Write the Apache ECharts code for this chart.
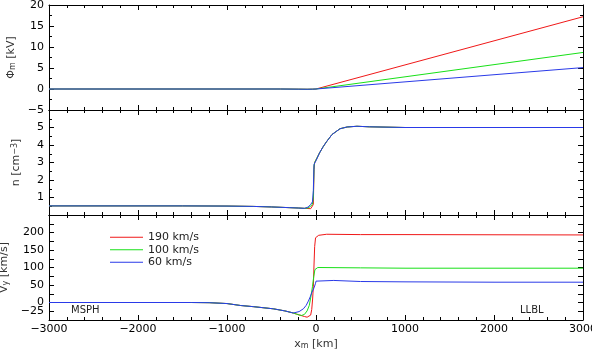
<!DOCTYPE html>
<html>
<head>
<meta charset="utf-8">
<script src="https://cdn.jsdelivr.net/npm/echarts@6/dist/echarts.min.js"></script>
<style>
  html, body { margin: 0; padding: 0; background: #fff; }
  #chart { width: 592px; height: 349px; }
</style>
</head>
<body>
<div id="chart"></div>
<script>
// series names
const names = ['190 km/s', '100 km/s', '60 km/s'];
const colors = ['#f01818', '#18e018', '#2a3ae8'];

// panel 1: potential phi_m [kV]
const xPhi = [-3000, -1000, -400, -200, -100, -40, 0, 3000];
const phiRed = [0, 0, 0, -0.04, -0.06, -0.04, 0, 17.2];
const phiGreen = [0, 0, 0, -0.04, -0.06, -0.04, 0, 8.7];
const phiBlue = [0, 0, 0, -0.04, -0.06, -0.04, 0, 5.1];

// panel 2: density n [cm^-3]
const xN = [-3000, -2000, -1500, -1000, -700, -500, -300, -200, -130, -90, -60, -40, -30, -22, -15, 0, 40, 80, 120, 180, 270, 350, 460, 600, 1000, 2000, 3000];
const nRed = [0.52, 0.52, 0.52, 0.51, 0.49, 0.46, 0.42, 0.40, 0.38, 0.37, 0.36, 0.42, 0.6, 2.6, 3.0, 3.1, 3.55, 3.9, 4.2, 4.6, 4.93, 5.03, 5.07, 5.04, 5.0, 5.0, 5.0];
const nGreen = [0.52, 0.52, 0.52, 0.51, 0.49, 0.46, 0.42, 0.40, 0.38, 0.40, 0.50, 0.62, 1.0, 2.8, 3.0, 3.1, 3.55, 3.9, 4.2, 4.6, 4.93, 5.03, 5.07, 5.04, 5.0, 5.0, 5.0];
const nBlue = [0.52, 0.52, 0.52, 0.51, 0.49, 0.46, 0.42, 0.40, 0.38, 0.45, 0.60, 0.75, 1.4, 2.9, 3.0, 3.1, 3.55, 3.9, 4.2, 4.6, 4.93, 5.03, 5.07, 5.04, 5.0, 5.0, 5.0];

// panel 3: velocity V_y [km/s]
const xVyCommon = [-3000, -2000, -1400, -1200, -1000, -850, -700, -480, -350, -255];
const vyCommon = [0, 0, 0, -0.5, -3, -8.5, -12, -18, -24, -30];
const xVyRed = [-220, -170, -130, -100, -80, -60, -48, -38, -30, -22, -15, -5, 10, 30, 120, 500, 1000, 3000];
const vyRed = [-33, -37, -40, -42, -42, -36, -20, 10, 45, 110, 160, 185, 190, 192, 195, 194, 194, 193];
const xVyGreen = [-220, -190, -161, -130, -100, -75, -55, -40, -25, -12, 0, 20, 500, 1000, 3000];
const vyGreen = [-33, -35.5, -37, -34, -24, -8, 20, 45, 75, 94, 99, 100, 99, 98, 98];
const xVyBlue = [-236, -190, -142, -110, -86, -65, -48, -22, -5, 0, 20, 200, 500, 1000, 2000, 3000];
const vyBlue = [-31, -26, -18, -8, 4, 16, 28, 42, 55, 61, 64, 63, 60, 59, 58, 58];

// tick labels
const xTicks = [-3000, -2000, -1000, 0, 1000, 2000, 3000];

const pairs = (xs, ys) => xs.map((x, i) => [x, ys[i]]);
const minus = v => String(v).replace('-', '\u2212');

const FONT = 'DejaVu Sans';
const tickStyle = { show: true, inside: true, length: 5, lineStyle: { color: '#000' } };
const minorStyle = (n) => ({ show: true, splitNumber: n, length: 3, lineStyle: { color: '#000' } });
const lineStyle = { show: true, onZero: false, lineStyle: { color: '#000', width: 1 } };

const grids = [
  { left: 49, right: 9, top: 5, height: 105, outerBoundsMode: 'none', containLabel: false },
  { left: 49, right: 9, top: 110, height: 105, outerBoundsMode: 'none', containLabel: false },
  { left: 49, right: 9, top: 215, height: 105, outerBoundsMode: 'none', containLabel: false },
];

const richSub = {
  a: { fontFamily: FONT, fontSize: 11, color: '#333', lineHeight: 11, verticalAlign: 'top' },
  s: { fontFamily: FONT, fontSize: 8, color: '#333', lineHeight: 8, padding: [6, 0, 0, 0], verticalAlign: 'bottom' },
};
const richSup = {
  a: { fontFamily: FONT, fontSize: 11, color: '#333', lineHeight: 11, padding: [4, 0, 0, 0], verticalAlign: 'bottom' },
  p: { fontFamily: FONT, fontSize: 8, color: '#333', lineHeight: 8, verticalAlign: 'top' },
};

const xAxes = [];
[0, 1, 2].forEach(g => {
  xAxes.push({
    type: 'value', gridIndex: g, min: -3000, max: 3000, interval: 1000,
    position: 'bottom',
    axisLine: lineStyle, axisTick: tickStyle, minorTick: minorStyle(5),
    splitLine: { show: false },
    axisLabel: {
      show: g === 2, fontFamily: FONT, fontSize: 11, color: '#000', margin: 4,
      showMinLabel: true, showMaxLabel: true, hideOverlap: false,
      formatter: v => xTicks.includes(v) ? minus(v) : ''
    },
    name: g === 2 ? '{a|x}{s|m}{a| [km]}' : '',
    nameLocation: 'middle', nameGap: 14,
    nameTextStyle: { rich: richSub },
  });
});
[0, 1, 2].forEach(g => {
  xAxes.push({
    type: 'value', gridIndex: g, min: -3000, max: 3000, interval: 1000,
    position: 'top',
    axisLine: lineStyle, axisTick: tickStyle, minorTick: minorStyle(5),
    splitLine: { show: false }, axisLabel: { show: false },
  });
});

const yCfg = [
  { min: -5, max: 20, interval: 5, minor: 2, show: v => true,
    name: '{a|\u03a6}{s|m}{a| [kV]}', rich: richSub },
  { min: 0, max: 6, interval: 1, minor: 2, show: v => v > 0 && v < 6,
    name: '{a|n [cm}{p|\u22123}{a|]}', rich: richSup },
  { min: -50, max: 250, interval: 25, minor: 1, show: v => v === -25 || (v % 50 === 0 && v > -50 && v < 250),
    name: '{a|V}{s|y}{a| [km/s]}', rich: richSub },
];

const yAxes = [];
yCfg.forEach((c, g) => {
  yAxes.push({
    type: 'value', gridIndex: g, min: c.min, max: c.max, interval: c.interval,
    position: 'left',
    axisLine: lineStyle, axisTick: tickStyle,
    minorTick: c.minor > 1 ? minorStyle(c.minor) : { show: false },
    splitLine: { show: false },
    axisLabel: {
      fontFamily: FONT, fontSize: 11, color: '#000', margin: 5,
      formatter: v => c.show(v) ? minus(v) : ''
    },
    name: c.name, nameLocation: 'middle', nameRotate: 90, nameGap: 27,
    nameTextStyle: { rich: c.rich },
  });
});
yCfg.forEach((c, g) => {
  yAxes.push({
    type: 'value', gridIndex: g, min: c.min, max: c.max, interval: c.interval,
    position: 'right',
    axisLine: lineStyle, axisTick: tickStyle,
    minorTick: c.minor > 1 ? minorStyle(c.minor) : { show: false },
    splitLine: { show: false }, axisLabel: { show: false },
  });
});

const mk = (name, color, g, data) => ({
  name, type: 'line', xAxisIndex: g, yAxisIndex: g, data,
  showSymbol: false, symbol: 'none', animation: false,
  lineStyle: { color, width: 1 }, itemStyle: { color },
});

const series = [
  mk(names[0], colors[0], 0, pairs(xPhi, phiRed)),
  mk(names[1], colors[1], 0, pairs(xPhi, phiGreen)),
  mk(names[2], colors[2], 0, pairs(xPhi, phiBlue)),
  mk(names[0], colors[0], 1, pairs(xN, nRed)),
  mk(names[1], colors[1], 1, pairs(xN, nGreen)),
  mk(names[2], colors[2], 1, pairs(xN, nBlue)),
  mk(names[0], colors[0], 2, pairs(xVyCommon.concat(xVyRed), vyCommon.concat(vyRed))),
  mk(names[1], colors[1], 2, pairs(xVyCommon.concat(xVyGreen), vyCommon.concat(vyGreen))),
  mk(names[2], colors[2], 2, pairs(xVyCommon.concat(xVyBlue), vyCommon.concat(vyBlue))),
];

const chart = echarts.init(document.getElementById('chart'));
chart.setOption({
  animation: false,
  backgroundColor: '#fff',
  grid: grids,
  xAxis: xAxes,
  yAxis: yAxes,
  legend: {
    data: names.map(n => ({ name: n, icon: 'rect' })),
    orient: 'vertical', left: 110, top: 231,
    itemWidth: 33, itemHeight: 1, itemGap: 0, padding: 0,
    textStyle: { fontFamily: FONT, fontSize: 11, color: '#222', lineHeight: 12.5 },
  },
  graphic: [
    { type: 'text', left: 71, top: 305, style: { text: 'MSPH', fontFamily: FONT, fontSize: 10, fill: '#222' } },
    { type: 'text', left: 520, top: 305, style: { text: 'LLBL', fontFamily: FONT, fontSize: 10, fill: '#222' } },
  ],
  series,
});
</script>
</body>
</html>
